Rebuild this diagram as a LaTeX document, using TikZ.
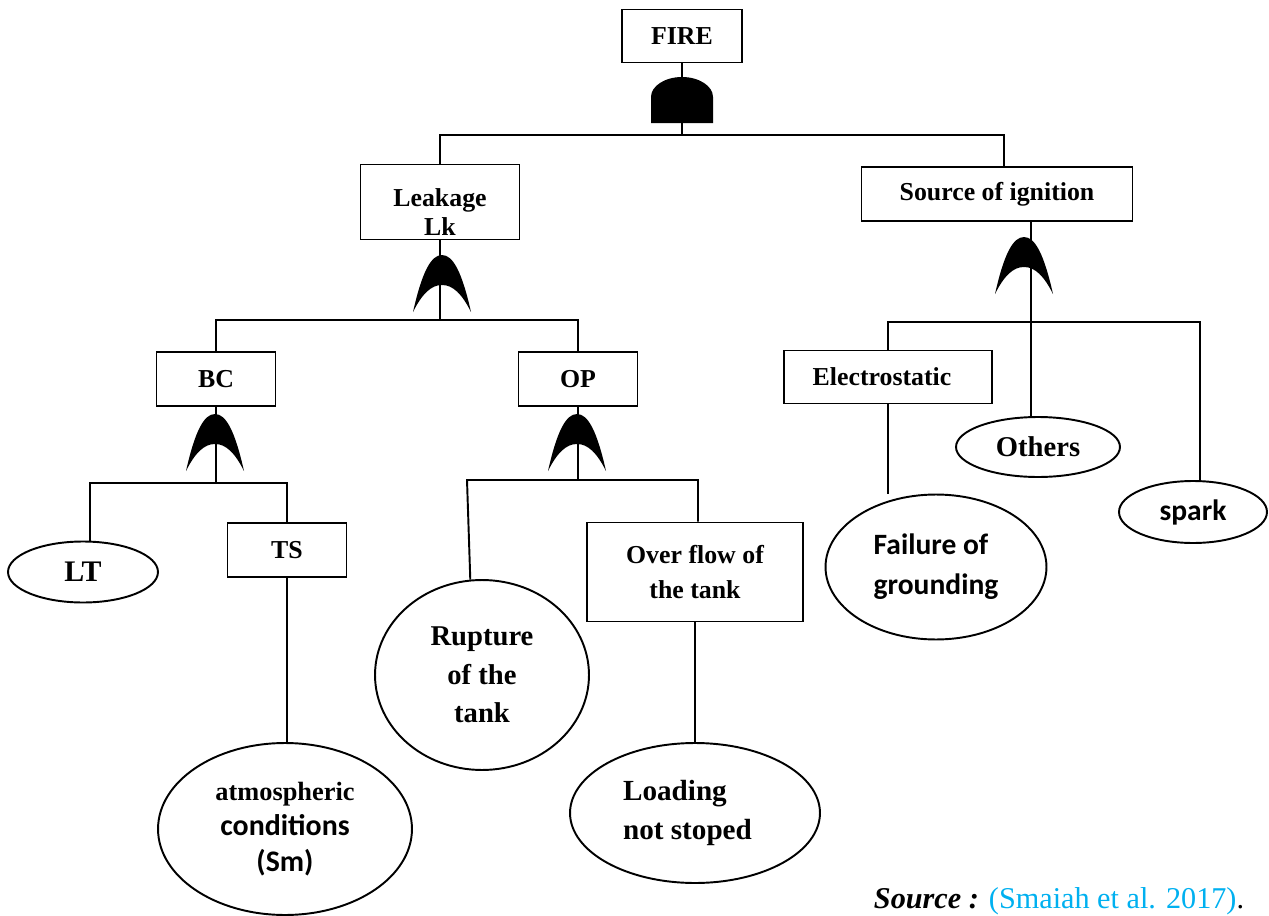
\documentclass[tikz,border=0pt]{standalone}
\usepackage{fontspec}
\setmainfont{Liberation Serif}
\newfontfamily\calibri{Carlito}
\usepackage{xcolor}
\definecolor{srcblue}{RGB}{0,176,240}
\usetikzlibrary{shapes.geometric,calc}
\newcommand\calb{\calibri\bfseries\fontsize{17}{20}\selectfont}

\begin{document}
\begin{tikzpicture}[
  x=0.02cm, y=-0.02cm, line width=1.1pt,
  box/.style={draw, inner sep=0pt, minimum height=1.08cm, align=center, font=\bfseries\fontsize{14.7}{16.5}\selectfont},
  evt/.style={draw, ellipse, inner sep=0pt, align=center, font=\bfseries\fontsize{16.3}{22}\selectfont},
  andgate/.pic={\fill (-31,46) -- (-31,20) .. controls (-31,9) and (-17,0) .. (0,0) .. controls (17,0) and (31,9) .. (31,20) -- (31,46) -- cycle;},
  orgate/.pic={\fill (-29,57) .. controls (-20,17) and (-11,0) .. (0,0) .. controls (11,0) and (20,17) .. (29,57) .. controls (20,39) and (11,30) .. (0,30) .. controls (-11,30) and (-20,39) .. (-29,57) -- cycle;}
]
\useasboundingbox (0,0) rectangle (1269,916);

% events
\node[box, minimum width=2.4cm, minimum height=1.06cm] (fire) at (682,36) {FIRE};
\node[box, minimum width=3.18cm, minimum height=1.5cm] (leak) at (440,202) {\rule{0pt}{22pt}Leakage\\Lk};
\node[box, minimum width=5.42cm] (sign) at (997,194) {Source of ignition};
\node[box, minimum width=2.38cm] (bc) at (216,379) {BC};
\node[box, minimum width=2.38cm] (op) at (578,379) {OP};
\node[box, minimum width=2.38cm] (ts) at (287,550) {TS};
\node[box, minimum width=4.32cm, minimum height=1.98cm, font=\bfseries\fontsize{14.7}{20}\selectfont] (over) at (695,572) {Over flow of\\the tank};
\node[box, minimum width=4.16cm, minimum height=1.06cm] (elec) at (888,377) {Electrostatic\hspace{0.24cm}};

% basic events
\node[evt, minimum width=3cm, minimum height=1.22cm, font=\bfseries\fontsize{17}{20}\selectfont] (lt) at (83,572) {LT};
\node[evt, minimum width=5.08cm, minimum height=3.44cm, font=\bfseries\fontsize{15}{20}\selectfont] (atm) at (285,829) {atmospheric\\{\calb conditions}\\{\calb (Sm)}};
\node[evt, minimum width=4.28cm, minimum height=3.8cm] (rupt) at (482,675) {Rupture\\of the\\tank};
\node[evt, minimum width=5cm, minimum height=2.8cm, align=left, font=\bfseries\fontsize{16.6}{22.7}\selectfont] (load) at (695,813) {Loading\\not stoped\hspace*{0.3cm}};
\node[evt, minimum width=4.42cm, minimum height=2.9cm, align=left, font=\calibri\bfseries\fontsize{16.8}{22.7}\selectfont] (fail) at (936,567) {Failure of\\grounding};
\node[evt, minimum width=3.28cm, minimum height=1.2cm] (others) at (1038,447) {Others};
\node[evt, minimum width=2.96cm, minimum height=1.24cm, font=\calibri\bfseries\fontsize{16.8}{20}\selectfont] (spark) at (1193,512) {spark};

% FIRE
\coordinate (topbar) at (682,135);
\draw (fire.south) -- (topbar);
\pic at (682,77) {andgate};
\draw (leak.north) |- (topbar) -| ([xshift=0.14cm]sign.north);

% Leakage
\coordinate (leakbar) at (440,320);
\draw (leak.south) -- (leakbar);
\pic at (442,255) {orgate};
\draw (bc.north) |- (leakbar) -| (op.north);

% BC
\coordinate (bcbar) at (216,483);
\draw (bc.south) -- (bcbar);
\pic at (215,414) {orgate};
\draw ([xshift=0.14cm]lt.north) |- (bcbar) -| (ts.north);
\draw (ts.south) -- (ts.south |- atm.north);

% OP
\coordinate (opbar) at (578,480);
\coordinate (opleft) at (467,480);
\draw (op.south) -- (opbar);
\pic at (577,414) {orgate};
\draw (rupt.97) -- (opleft) -| ([xshift=0.06cm]over.north);
\draw (over.south) -- (load.north);

% Source of ignition
\coordinate (sgbar) at (1031,322);
\draw ([xshift=0.68cm]sign.south) -- (sgbar);
\pic at (1024,237) {orgate};
\draw (elec.north) |- (sgbar) -| ([xshift=0.14cm]spark.north);
\draw (sgbar) -- (sgbar |- others.north);
\draw (elec.south) -- (elec.south |- fail.north);

\node[anchor=base west, inner sep=0pt, font=\fontsize{17.2}{20}\selectfont] (src) at (873,908) {\textbf{\textit{Source :}} \textcolor{srcblue}{(Smaiah et al. 2017)}.};
\end{tikzpicture}
\end{document}
